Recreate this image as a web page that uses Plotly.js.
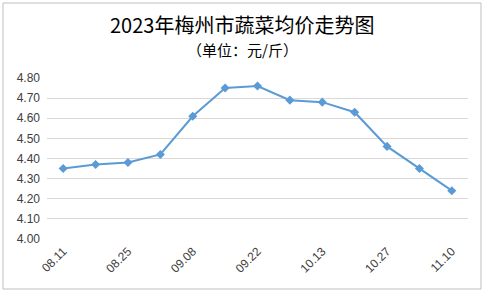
<!DOCTYPE html>
<html>
<head>
<meta charset="utf-8">
<script src="https://cdn.plot.ly/plotly-3.0.1.min.js"></script>
<style>
html,body{margin:0;padding:0;background:#fff;}
#chart{width:485px;height:292px;}
</style>
</head>
<body>
<div id="chart"></div>
<script>
const categories = ["08.11","08.18","08.25","09.01","09.08","09.15","09.22","09.28","10.13","10.20","10.27","11.03","11.10"];
const prices = [4.35,4.37,4.38,4.42,4.61,4.75,4.76,4.69,4.68,4.63,4.46,4.35,4.24];
const yTicks = [4.00,4.10,4.20,4.30,4.40,4.50,4.60,4.70,4.80];
const titleText = "2023年梅州市蔬菜均价走势图";
const subtitleText = "（单位：元/斤）";

const M = {l:47, r:17, t:78, b:53};
const W = 485, H = 292;
const pw = W - M.l - M.r, ph = H - M.t - M.b;
const px = v => (v - M.l) / pw;
const py = v => (H - M.b - v) / ph;

const trace = {
  type: 'scatter', mode: 'lines+markers',
  x: categories, y: prices,
  line: {color: '#5B9BD5', width: 2},
  marker: {symbol: 'diamond', size: 7, color: '#5B9BD5'},
  hoverinfo: 'x+y'
};

const layout = {
  width: W, height: H,
  margin: M,
  paper_bgcolor: '#fff', plot_bgcolor: '#fff',
  showlegend: false,
  font: {family: 'Liberation Sans, Arial, sans-serif', size: 12, color: '#404040'},
  xaxis: {
    type: 'category', categoryorder: 'array', categoryarray: categories,
    range: [-0.5, categories.length - 0.5],
    tickmode: 'array', tickvals: categories.filter((c,i)=>i%2===0),
    tickangle: -45, showgrid: false, zeroline: false, showline: false, ticks: '',
    ticklabelstandoff: 2,
    tickfont: {size: 12, color: '#404040'}
  },
  yaxis: {
    range: [4.0, 4.8], tickmode: 'array', tickvals: yTicks,
    ticktext: yTicks.map(v => v.toFixed(2)),
    showgrid: true, gridcolor: '#D9D9D9', gridwidth: 1,
    zeroline: false, showline: false, ticks: '', ticklabelstandoff: 6,
    tickfont: {size: 12, color: '#404040'}
  },
  shapes: [{
    type: 'rect', xref: 'paper', yref: 'paper',
    x0: px(3), x1: px(481), y0: py(289), y1: py(3),
    line: {color: '#BFBFBF', width: 1}, fillcolor: 'rgba(0,0,0,0)', layer: 'below'
  }],
  annotations: [
    {text: titleText, xref: 'paper', yref: 'paper', x: px(242), y: py(25),
     showarrow: false, xanchor: 'center', yanchor: 'middle',
     font: {family: 'Noto Sans CJK SC, sans-serif', size: 20, color: '#000'}},
    {text: subtitleText, xref: 'paper', yref: 'paper', x: px(242), y: py(50),
     showarrow: false, xanchor: 'center', yanchor: 'middle',
     font: {family: 'Noto Sans CJK SC, sans-serif', size: 15, color: '#000'}}
  ]
};

Plotly.newPlot('chart', [trace], layout, {displayModeBar: false, staticPlot: true});
</script>
</body>
</html>
